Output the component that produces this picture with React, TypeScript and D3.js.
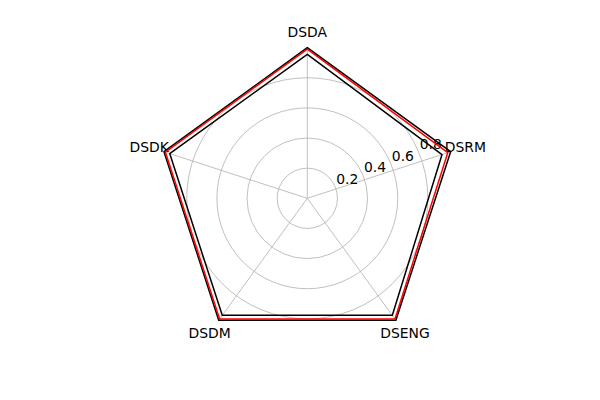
import React, { useRef, useEffect } from "react";
import * as d3 from "d3";

// spokes, clockwise from the top
const categories = ["DSDA", "DSRM", "DSENG", "DSDM", "DSDK"];
const radialTicks = [0.2, 0.4, 0.6, 0.8];

// three series
const outerSeries = [1.0, 1.0, 1.0, 1.0, 1.0];
const redSeries = [0.99, 0.98, 0.99, 0.99, 0.99];
const innerSeries = [0.955, 0.94, 0.96, 0.96, 0.96];

export default function App() {
  const ref = useRef<SVGSVGElement>(null);

  useEffect(() => {
    if (!ref.current) return;
    const svg = d3.select(ref.current);
    svg.selectAll("*").remove();

    const w = 600;
    const h = 400;
    const cx = 307.3;
    const cy = 198.3;
    const font = "DejaVu Sans, sans-serif";

    const rScale = d3.scaleLinear().domain([0, 1]).range([0, 150.7]);
    const aScale = d3.scaleLinear().domain([0, categories.length]).range([0, 2 * Math.PI]);

    svg.append("rect").attr("width", w).attr("height", h).attr("fill", "#fff");

    const g = svg.append("g").attr("transform", `translate(${cx},${cy})`);

    // circular grid
    g.selectAll("circle.grid")
      .data(radialTicks)
      .enter()
      .append("circle")
      .attr("class", "grid")
      .attr("r", d => rScale(d))
      .attr("fill", "none")
      .attr("stroke", "#b0b0b0")
      .attr("stroke-width", 0.8);

    // spokes
    g.selectAll("line.spoke")
      .data(categories)
      .enter()
      .append("line")
      .attr("class", "spoke")
      .attr("x1", 0)
      .attr("y1", 0)
      .attr("x2", (_, i) => rScale(1) * Math.sin(aScale(i)))
      .attr("y2", (_, i) => -rScale(1) * Math.cos(aScale(i)))
      .attr("stroke", "#b0b0b0")
      .attr("stroke-width", 0.8);

    // radial tick labels at 22.5deg
    const la = (67.5 * Math.PI) / 180;
    g.selectAll("text.rtick")
      .data(radialTicks)
      .enter()
      .append("text")
      .attr("class", "rtick")
      .attr("x", d => rScale(d) * Math.sin(la) + 1)
      .attr("y", d => -rScale(d) * Math.cos(la) - 3)
      .attr("font-family", font)
      .attr("font-size", 13.9)
      .attr("fill", "#000")
      .text(d => d.toFixed(1));

    // category labels
    g.selectAll("text.cat")
      .data(categories)
      .enter()
      .append("text")
      .attr("class", "cat")
      .attr("x", (_, i) => (rScale(1) + 15.5) * Math.sin(aScale(i)))
      .attr("y", (_, i) => -(rScale(1) + 15.5) * Math.cos(aScale(i)))
      .attr("text-anchor", "middle")
      .attr("dominant-baseline", "central")
      .attr("font-family", font)
      .attr("font-size", 13.9)
      .attr("fill", "#000")
      .text(d => d);

    const line = d3.lineRadial<number>()
      .angle((_, i) => aScale(i))
      .radius(d => rScale(d))
      .curve(d3.curveLinearClosed);

    const series = [
      { values: outerSeries, color: "#000" },
      { values: redSeries, color: "#ff0000" },
      { values: innerSeries, color: "#000" },
    ];

    g.selectAll("path.series")
      .data(series)
      .enter()
      .append("path")
      .attr("class", "series")
      .attr("d", d => line(d.values))
      .attr("fill", "none")
      .attr("stroke", d => d.color)
      .attr("stroke-width", 1.5)
      .attr("stroke-linejoin", "round");
  }, []);

  return (
    <div style={{ position: "fixed", left: 0, top: 0 }}>
      <svg ref={ref} width={600} height={400} style={{ display: "block" }} />
    </div>
  );
}
